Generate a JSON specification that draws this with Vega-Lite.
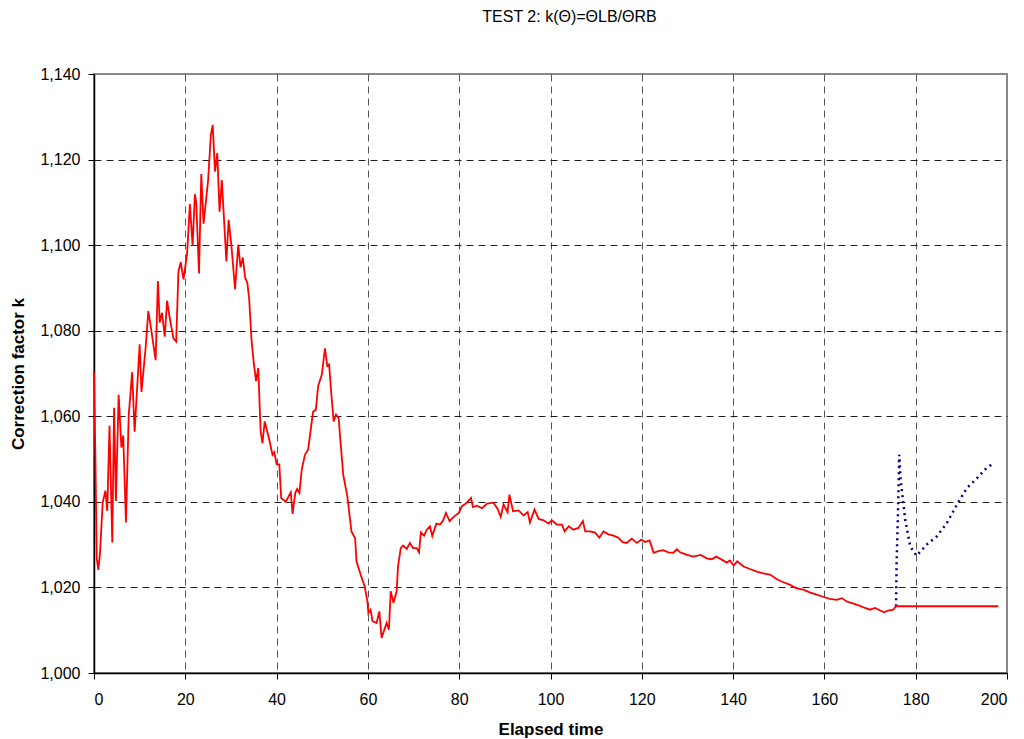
{
  "$schema": "https://vega.github.io/schema/vega-lite/v6.json",
  "width": 913,
  "height": 599,
  "autosize": {"type": "none"},
  "padding": {"left": 94, "top": 74, "right": 17, "bottom": 66},
  "background": "white",
  "title": {"text": "TEST 2: k(Θ)=ΘLB/ΘRB", "font": "Liberation Sans", "fontSize": 16, "fontWeight": "normal", "color": "black", "offset": 41, "dx": 19},
  "datasets": {
    "k": [
      {"t":0,"k":1.0703},{"t":0.3,"k":1.0509},{"t":0.6,"k":1.0268},{"t":0.95,"k":1.0241},{"t":1.3,"k":1.0278},{"t":1.9,"k":1.0398},{"t":2.5,"k":1.0426},{"t":2.9,"k":1.0379},{"t":3.4,"k":1.0578},{"t":4.0,"k":1.0305},{"t":4.4,"k":1.062},{"t":4.8,"k":1.0402},{"t":5.4,"k":1.065},{"t":6.0,"k":1.0527},{"t":6.4,"k":1.0555},{"t":7.0,"k":1.0352},{"t":7.6,"k":1.0601},{"t":8.35,"k":1.0703},{"t":8.9,"k":1.0564},{"t":10.0,"k":1.0768},{"t":10.4,"k":1.0657},{"t":11.3,"k":1.0759},{"t":11.9,"k":1.0846},{"t":12.5,"k":1.0805},{"t":13.5,"k":1.0731},{"t":14.0,"k":1.0916},{"t":14.4,"k":1.0819},{"t":14.9,"k":1.0842},{"t":15.5,"k":1.0786},{"t":16.0,"k":1.087},{"t":16.7,"k":1.0823},{"t":17.4,"k":1.0782},{"t":18.0,"k":1.0775},{"t":18.5,"k":1.0939},{"t":19.0,"k":1.096},{"t":19.6,"k":1.092},{"t":20.4,"k":1.098},{"t":21.0,"k":1.1096},{"t":21.6,"k":1.0999},{"t":22.1,"k":1.1119},{"t":22.4,"k":1.110},{"t":23.0,"k":1.0934},{"t":23.5,"k":1.1166},{"t":24.0,"k":1.105},{"t":25.0,"k":1.1152},{"t":25.6,"k":1.1258},{"t":26.0,"k":1.1281},{"t":26.5,"k":1.1172},{"t":27.0,"k":1.1215},{"t":27.5,"k":1.1078},{"t":28.0,"k":1.1152},{"t":29.0,"k":1.0962},{"t":29.5,"k":1.1059},{"t":30.1,"k":1.0999},{"t":30.9,"k":1.0897},{"t":31.6,"k":1.1001},{"t":32.1,"k":1.0948},{"t":32.6,"k":1.0971},{"t":33.1,"k":1.0925},{"t":33.6,"k":1.0911},
      {"t":34.0,"k":1.0873},{"t":34.5,"k":1.0779},{"t":35.0,"k":1.0724},{"t":35.5,"k":1.0682},{"t":35.98,"k":1.0713},{"t":36.5,"k":1.0565},{"t":36.9,"k":1.0537},{"t":37.4,"k":1.0588},{"t":38.4,"k":1.0545},{"t":39.1,"k":1.051},{"t":39.5,"k":1.0516},{"t":40.0,"k":1.0488},{"t":40.6,"k":1.0487},{"t":41.0,"k":1.0409},{"t":42.0,"k":1.04},{"t":43.1,"k":1.0422},{"t":43.5,"k":1.0372},{"t":44.1,"k":1.0421},{"t":44.5,"k":1.043},{"t":45.0,"k":1.0421},{"t":45.5,"k":1.0475},{"t":46.2,"k":1.051},{"t":46.9,"k":1.0522},{"t":48.0,"k":1.0611},{"t":48.6,"k":1.0615},{"t":49.1,"k":1.0671},{"t":49.9,"k":1.0697},{"t":50.6,"k":1.0759},{"t":51.1,"k":1.0718},{"t":51.5,"k":1.0721},{"t":52.0,"k":1.065},{"t":52.5,"k":1.0588},{"t":53.0,"k":1.0604},{"t":53.6,"k":1.0596},{"t":53.9,"k":1.0553},{"t":54.6,"k":1.0463},{"t":55.5,"k":1.0413},{"t":56.4,"k":1.0331},{"t":57.2,"k":1.0315},{"t":57.5,"k":1.0261},{"t":58.4,"k":1.023},{"t":59.3,"k":1.0202},{"t":59.9,"k":1.0167},{"t":60.1,"k":1.014},{"t":60.6,"k":1.0148},{"t":61.0,"k":1.0121},{"t":61.9,"k":1.0117},{"t":62.5,"k":1.0144},{"t":63.0,"k":1.0082},{"t":64.1,"k":1.0117},{"t":64.6,"k":1.0101},{"t":65.0,"k":1.0191},{"t":65.6,"k":1.0164},{"t":66.3,"k":1.0191},{"t":66.6,"k":1.0249},{"t":67.2,"k":1.0292},{"t":67.7,"k":1.0298},{"t":68.5,"k":1.029},{"t":69.2,"k":1.0304},{"t":69.9,"k":1.0292},{"t":70.7,"k":1.0292},{"t":71.2,"k":1.0282},
      {"t":71.6,"k":1.0329},{"t":72.3,"k":1.0321},{"t":72.9,"k":1.0335},{"t":73.6,"k":1.0343},{"t":74.1,"k":1.032},{"t":75.0,"k":1.0349},{"t":75.8,"k":1.0347},{"t":76.4,"k":1.0355},{"t":77.1,"k":1.0374},{"t":77.9,"k":1.0355},{"t":78.8,"k":1.0365},{"t":79.9,"k":1.0374},{"t":80.6,"k":1.039},{"t":81.7,"k":1.0398},{"t":82.6,"k":1.0409},{"t":83.0,"k":1.0388},{"t":83.9,"k":1.0391},{"t":85.0,"k":1.0385},{"t":86.1,"k":1.0396},{"t":87.5,"k":1.0398},{"t":88.4,"k":1.0384},{"t":89.1,"k":1.0365},{"t":89.7,"k":1.0394},{"t":90.6,"k":1.0376},{"t":91.0,"k":1.0417},{"t":91.8,"k":1.0378},{"t":93.0,"k":1.038},{"t":94.1,"k":1.0368},{"t":95.0,"k":1.0376},{"t":95.5,"k":1.0352},{"t":96.5,"k":1.0382},{"t":97.4,"k":1.036},{"t":98.5,"k":1.0357},{"t":99.6,"k":1.0349},{"t":100.3,"k":1.0357},{"t":101.4,"k":1.0347},{"t":102.5,"k":1.0347},{"t":103.1,"k":1.0331},{"t":104.0,"k":1.0343},{"t":105.0,"k":1.0335},{"t":106.1,"k":1.0339},{"t":107.1,"k":1.0355},{"t":107.6,"k":1.0331},{"t":108.7,"k":1.0331},{"t":109.8,"k":1.0328},{"t":110.7,"k":1.0316},{"t":111.6,"k":1.0331},{"t":112.7,"k":1.0324},{"t":113.8,"k":1.0321},{"t":114.9,"k":1.0316},{"t":115.8,"k":1.0306},{"t":116.7,"k":1.0304},{"t":117.8,"k":1.0314},{"t":118.9,"k":1.0304},{"t":119.9,"k":1.0312},{"t":120.7,"k":1.0306},{"t":121.7,"k":1.031},{"t":122.6,"k":1.0281},{"t":123.6,"k":1.0285},{"t":124.7,"k":1.0287},{"t":125.8,"k":1.0282},{"t":126.9,"k":1.0281},{"t":127.7,"k":1.0289},
      {"t":128.4,"k":1.0282},{"t":129.9,"k":1.0276},{"t":131.3,"k":1.0272},{"t":132.9,"k":1.0276},{"t":134.2,"k":1.0268},{"t":135.3,"k":1.0266},{"t":136.3,"k":1.0272},{"t":137.5,"k":1.0265},{"t":138.6,"k":1.0258},{"t":139.3,"k":1.0263},{"t":140.1,"k":1.0251},{"t":140.9,"k":1.0261},{"t":142.3,"k":1.0249},{"t":143.7,"k":1.0243},{"t":145.2,"k":1.0237},{"t":146.6,"k":1.0233},{"t":148.1,"k":1.023},{"t":149.6,"k":1.0219},{"t":151.0,"k":1.0212},{"t":152.5,"k":1.0206},{"t":153.9,"k":1.0198},{"t":155.4,"k":1.0195},{"t":156.9,"k":1.0188},{"t":158.3,"k":1.0183},{"t":160.0,"k":1.0177},{"t":161.2,"k":1.0173},{"t":162.7,"k":1.0171},{"t":163.8,"k":1.0175},{"t":164.9,"k":1.0167},{"t":166.4,"k":1.0162},{"t":167.8,"k":1.0157},{"t":168.9,"k":1.0152},{"t":170.0,"k":1.0148},{"t":171.1,"k":1.0152},{"t":172.2,"k":1.0146},{"t":173.1,"k":1.0142},{"t":174.0,"k":1.0146},{"t":175.1,"k":1.0148},{"t":175.7,"k":1.0156},{"t":198.1,"k":1.0156}
    ],
    "kb": [
      {"t":175.7,"k":1.0156},{"t":175.8,"k":1.0249},{"t":176.1,"k":1.0366},{"t":176.4,"k":1.051},{"t":176.7,"k":1.0451},{"t":177.2,"k":1.0405},{"t":177.7,"k":1.0358},{"t":178.8,"k":1.0296},{"t":180.2,"k":1.0274},{"t":182.4,"k":1.03},{"t":184.6,"k":1.0319},{"t":186.8,"k":1.035},{"t":189.0,"k":1.0393},{"t":191.2,"k":1.0432},{"t":193.4,"k":1.0455},{"t":195.2,"k":1.0476},{"t":197.0,"k":1.049}
    ]
  },
  "encoding": {
    "x": {
      "field": "t", "type": "quantitative",
      "scale": {"domain": [0, 200], "nice": false, "zero": false},
      "axis": {
        "title": "Elapsed time",
        "values": [0,20,40,60,80,100,120,140,160,180,200],
        "labelPadding": 12, "titlePadding": 14,
        "gridColor": "#555",
        "gridOpacity": {"condition": {"test": "datum.value == 0 || datum.value == 200", "value": 0}, "value": 1}
      }
    },
    "y": {
      "field": "k", "type": "quantitative",
      "scale": {"domain": [1.0, 1.14], "nice": false, "zero": false},
      "axis": {
        "title": "Correction factor k",
        "values": [1.0,1.02,1.04,1.06,1.08,1.1,1.12,1.14],
        "labelExpr": "replace(format(datum.value, '.3f'), '.', ',')",
        "labelPadding": 8, "titlePadding": 12,
        "gridColor": "#222",
        "gridOpacity": {"condition": {"test": "datum.value <= 1.0001 || datum.value >= 1.1399", "value": 0}, "value": 1}
      }
    }
  },
  "layer": [
    {"data": {"name": "kb"}, "mark": {"type": "line", "color": "#000080", "strokeWidth": 2.5, "strokeDash": [2, 4]}},
    {"data": {"name": "k"}, "mark": {"type": "line", "color": "#FF0000", "strokeWidth": 1.8}}
  ],
  "config": {
    "view": {"stroke": "#888", "strokeWidth": 2},
    "axis": {
      "labelFont": "Liberation Sans", "labelFontSize": 16, "labelColor": "black",
      "titleFont": "Liberation Sans", "titleFontSize": 17, "titleFontWeight": "bold", "titleColor": "black",
      "domainColor": "black", "domainWidth": 1.5, "tickColor": "black", "tickSize": 6,
      "grid": true, "gridDash": [7, 5], "gridWidth": 1
    }
  }
}
